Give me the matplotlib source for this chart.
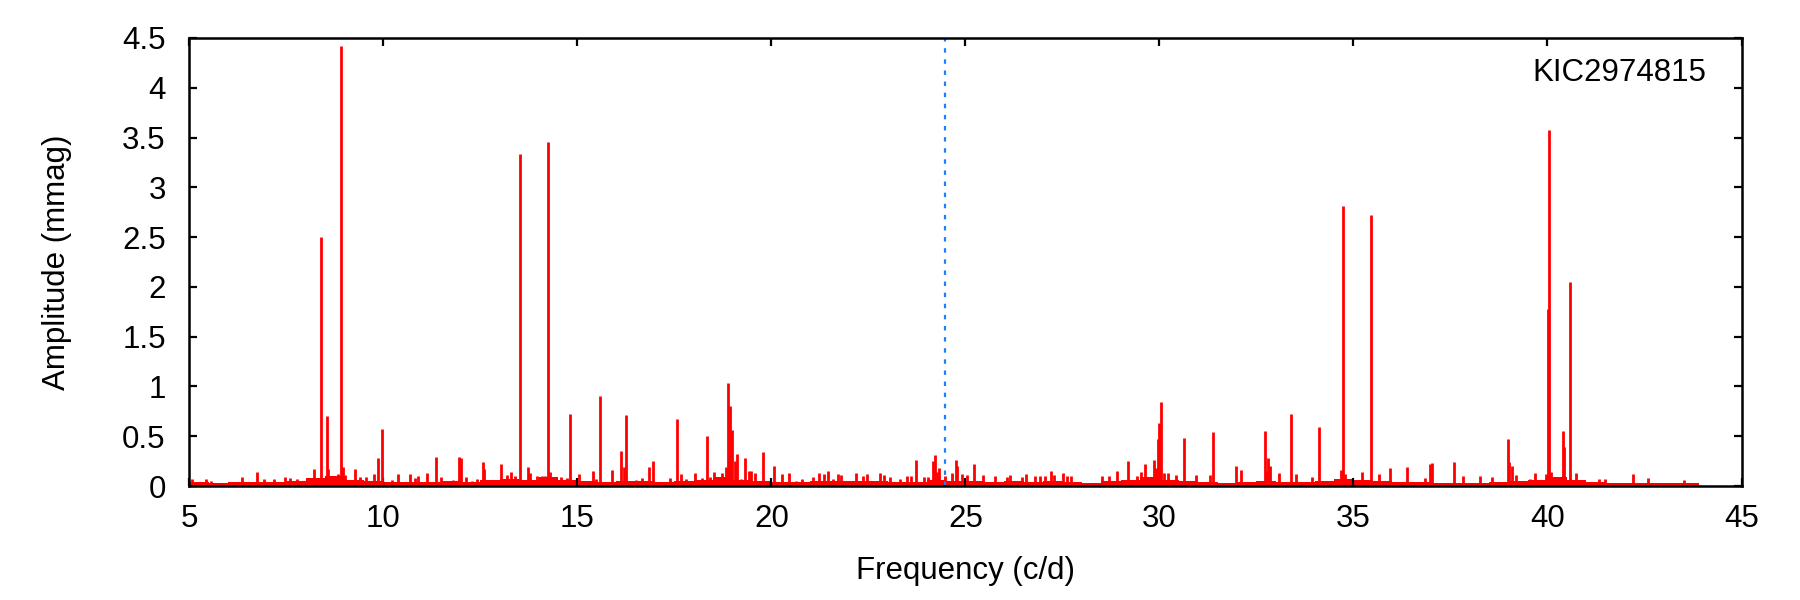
import numpy as np
import matplotlib
matplotlib.use("Agg")
import matplotlib.pyplot as plt
from matplotlib.ticker import MultipleLocator, FormatStrFormatter

plt.rcParams["font.family"] = ["Liberation Sans", "DejaVu Sans"]

star = "KIC2974815"
nyquist = 24.47  # dotted line (c/d)

# peaks: frequency (c/d), amplitude (mmag)
peak_freq = [
    5.06, 5.42, 5.55, 6.35, 6.74, 6.93, 7.17, 7.46, 7.60, 7.77,
    8.20, 8.38, 8.55, 8.58, 8.76, 8.84, 8.90, 8.95, 9.01, 9.28,
    9.39, 9.56, 9.75, 9.85, 9.96, 10.23, 10.37, 10.69, 10.82, 10.88,
    11.12, 11.35, 11.48, 11.79, 11.94, 11.99, 12.13, 12.28, 12.42, 12.57,
    12.60, 13.03, 13.18, 13.30, 13.39, 13.51, 13.72, 13.77, 13.97, 14.09,
    14.16, 14.24, 14.29, 14.57, 14.72, 14.82, 15.04, 15.41, 15.49, 15.57,
    15.88, 16.12, 16.19, 16.24, 16.52, 16.66, 16.84, 16.96, 17.39, 17.56,
    17.67, 17.79, 18.03, 18.20, 18.33, 18.43, 18.52, 18.72, 18.84, 18.89,
    18.93, 18.98, 19.06, 19.11, 19.21, 19.32, 19.42, 19.47, 19.57, 19.78,
    20.06, 20.28, 20.45, 20.63, 20.78, 21.08, 21.22, 21.35, 21.45, 21.59,
    21.71, 21.80, 22.17, 22.37, 22.46, 22.80, 22.90, 23.06, 23.31, 23.49,
    23.59, 23.72, 23.92, 24.04, 24.16, 24.21, 24.26, 24.31, 24.47, 24.65,
    24.75, 24.78, 24.91, 25.04, 25.21, 25.45, 25.75, 26.06, 26.14, 26.47,
    26.55, 26.78, 26.91, 27.06, 27.20, 27.27, 27.51, 27.61, 27.72, 28.51,
    28.69, 28.90, 29.18, 29.41, 29.52, 29.62, 29.85, 29.90, 29.95, 29.98,
    30.05, 30.11, 30.22, 30.43, 30.62, 30.93, 31.29, 31.39, 31.96, 32.11,
    32.71, 32.75, 32.81, 32.84, 33.08, 33.38, 33.53, 33.92, 34.12, 34.69,
    34.72, 34.77, 35.23, 35.44, 35.65, 35.93, 36.37, 36.84, 36.96, 37.02,
    37.59, 37.83, 38.27, 38.57, 38.97, 39.00, 39.09, 39.20, 39.56, 39.67,
    39.96, 40.01, 40.05, 40.09, 40.40, 40.43, 40.57, 40.74, 41.33, 41.48,
    42.20, 42.60, 43.53,
]
peak_amp = [
    0.07, 0.07, 0.05, 0.09, 0.14, 0.07, 0.07, 0.09, 0.08, 0.07,
    0.17, 2.50, 0.70, 0.17, 0.09, 0.12, 4.42, 0.19, 0.11, 0.17,
    0.09, 0.09, 0.12, 0.28, 0.57, 0.06, 0.12, 0.12, 0.08, 0.10,
    0.13, 0.29, 0.09, 0.06, 0.29, 0.28, 0.09, 0.05, 0.07, 0.24,
    0.17, 0.22, 0.11, 0.14, 0.10, 3.33, 0.19, 0.13, 0.10, 0.10,
    0.10, 3.46, 0.14, 0.09, 0.08, 0.72, 0.12, 0.15, 0.07, 0.90,
    0.16, 0.35, 0.19, 0.71, 0.06, 0.08, 0.19, 0.25, 0.08, 0.67,
    0.12, 0.07, 0.13, 0.08, 0.50, 0.09, 0.14, 0.13, 0.19, 1.03,
    0.80, 0.56, 0.25, 0.32, 0.07, 0.28, 0.15, 0.15, 0.13, 0.34,
    0.20, 0.12, 0.13, 0.05, 0.07, 0.09, 0.13, 0.12, 0.15, 0.07,
    0.12, 0.11, 0.13, 0.10, 0.12, 0.13, 0.11, 0.09, 0.07, 0.10,
    0.10, 0.26, 0.09, 0.09, 0.25, 0.31, 0.14, 0.18, 0.10, 0.13,
    0.26, 0.20, 0.12, 0.11, 0.22, 0.11, 0.10, 0.09, 0.11, 0.09,
    0.12, 0.10, 0.10, 0.10, 0.15, 0.11, 0.13, 0.10, 0.10, 0.10,
    0.10, 0.15, 0.25, 0.10, 0.14, 0.22, 0.26, 0.18, 0.47, 0.63,
    0.84, 0.13, 0.13, 0.11, 0.48, 0.11, 0.11, 0.54, 0.20, 0.16,
    0.55, 0.15, 0.28, 0.20, 0.13, 0.72, 0.12, 0.09, 0.59, 0.16,
    2.81, 0.12, 0.14, 2.72, 0.12, 0.18, 0.19, 0.08, 0.22, 0.23,
    0.24, 0.10, 0.10, 0.09, 0.47, 0.24, 0.20, 0.11, 0.07, 0.13,
    0.12, 1.78, 3.58, 0.14, 0.55, 0.39, 2.05, 0.13, 0.07, 0.07,
    0.12, 0.08, 0.06,
]

# noise floor per 0.5 c/d bin (last bin ends where the data stops)
floor_edges = np.append(np.arange(5.0, 43.51, 0.5), 43.9)
floor_amp = [
    0.04, 0.035, 0.04, 0.045, 0.04, 0.05, 0.08, 0.10, 0.06, 0.055,
    0.045, 0.045, 0.04, 0.05, 0.045, 0.06, 0.07, 0.065, 0.09, 0.06,
    0.055, 0.045, 0.055, 0.055, 0.045, 0.055, 0.06, 0.09, 0.065, 0.055,
    0.045, 0.04, 0.055, 0.055, 0.05, 0.055, 0.045, 0.045, 0.065, 0.055,
    0.05, 0.045, 0.05, 0.045, 0.055, 0.04, 0.035, 0.05, 0.065, 0.09,
    0.06, 0.05, 0.04, 0.035, 0.045, 0.055, 0.04, 0.04, 0.05, 0.075,
    0.065, 0.055, 0.04, 0.045, 0.035, 0.035, 0.035, 0.045, 0.05, 0.065,
    0.09, 0.06, 0.045, 0.035, 0.035, 0.035, 0.035, 0.035,
]

fig = plt.figure(figsize=(18, 6), dpi=100)
ax = fig.add_axes([0.1052, 0.19, 0.8623, 0.7467])

ax.stairs(floor_amp, floor_edges, fill=True, color="#ff0000", lw=0)
ax.vlines(peak_freq, 0, peak_amp, color="#ff0000", lw=2.0)
ax.axvline(nyquist, color="#1a80ff", lw=1.6, linestyle=(0, (2, 3)))

ax.set_xlim(5, 45)
ax.set_ylim(0, 4.5)
ax.xaxis.set_major_locator(MultipleLocator(5))
ax.yaxis.set_major_locator(MultipleLocator(0.5))
ax.yaxis.set_major_formatter(FormatStrFormatter("%g"))
ax.tick_params(direction="in", length=6, width=1.6, top=True, right=True,
               labelsize=22.5)
ax.tick_params(axis="x", pad=13)
ax.tick_params(axis="y", pad=17)
for sp in ax.spines.values():
    sp.set_linewidth(1.8)

ax.text(0.977, 0.904, star, transform=ax.transAxes, ha="right",
        va="baseline", fontsize=22.5)

fig.text(57 / 1800, 1 - 262 / 600, "Amplitude (mmag)", rotation=90,
         ha="center", va="center", fontsize=22.5)
fig.text((189.4 + 1741.5) / 2 / 1800, 1 - 571 / 600, "Frequency (c/d)",
         ha="center", va="center", fontsize=22.5)

fig.savefig("out.png", dpi=100)
plt.close(fig)
